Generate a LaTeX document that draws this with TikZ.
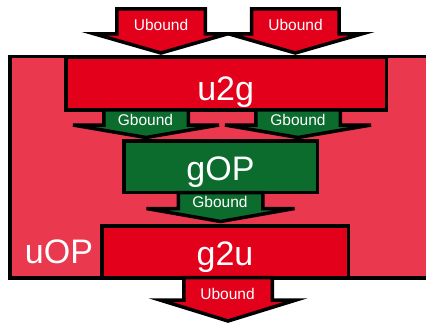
\documentclass[tikz,border=0pt]{standalone}
\usepackage{fontspec}
\setmainfont{Liberation Sans}
\definecolor{ured}{RGB}{227,0,27}
\definecolor{upink}{RGB}{234,57,79}
\definecolor{ggreen}{RGB}{12,108,46}
\newcommand{\blockarr}[7]{%
  \draw[arrshape, fill=#7] (#1-#5,#2) -- (#1+#5,#2) -- (#1+#5,#3) -- (#1+#6,#3)
    -- (#1,#4) -- (#1-#6,#3) -- (#1-#5,#3) -- cycle;}
\tikzset{
  blk/.style={draw=black, line width=3.5pt, line join=miter},
  arrshape/.style={draw=black, line width=3.5pt, line join=miter, miter limit=10},
  lbl/.style={text=white, font=\fontsize{15.5}{16}\selectfont, inner sep=0pt, anchor=base},
  big/.style={text=white, font=\fontsize{34}{36}\selectfont, inner sep=0pt, anchor=base}
}
\begin{document}
\begin{tikzpicture}[x=1pt, y=-1pt]
\useasboundingbox (0,0) rectangle (426,325);
\begin{scope}
\clip (0,0) rectangle (426,325);
% outer uOP
\draw[blk, fill=upink] (9.75,56.25) rectangle (450,277.75);
% boxes
\draw[blk, fill=ured] (65.75,56.75) rectangle (386.25,109.75);
\draw[blk, fill=ggreen] (123.75,140.75) rectangle (317.25,192.5);
\draw[blk, fill=ured] (101.75,226) rectangle (348.5,277.5);
% arrows
\blockarr{161}{8.75}{33.75}{53}{44.25}{67}{ured}
\blockarr{295.3}{8.75}{33.75}{53}{43.75}{67}{ured}
\blockarr{146}{109.75}{125}{137.5}{42.25}{73}{ggreen}
\blockarr{298}{109.75}{125}{137.5}{42.25}{73}{ggreen}
\blockarr{220.5}{192.5}{208.5}{221.5}{42.25}{74}{ggreen}
\blockarr{228}{277.5}{300}{321}{44.25}{68}{ured}
\end{scope}
% labels
\node[lbl] (ub1) at (161,30) {Ubound};
\node[lbl] (ub2) at (295.5,30) {Ubound};
\node[big] (u2g) at (225.7,100) {u2g};
\node[lbl] (gb1) at (145.5,125) {Gbound};
\node[lbl] (gb2) at (298,125) {Gbound};
\node[big] (gop) at (220.5,180) {gOP};
\node[lbl] (gb3) at (220,207.5) {Gbound};
\node[big] (g2u) at (225,265) {g2u};
\node[big] (uop) at (59,263) {uOP};
\node[lbl] (ub3) at (227.5,299) {Ubound};
\end{tikzpicture}
\end{document}
